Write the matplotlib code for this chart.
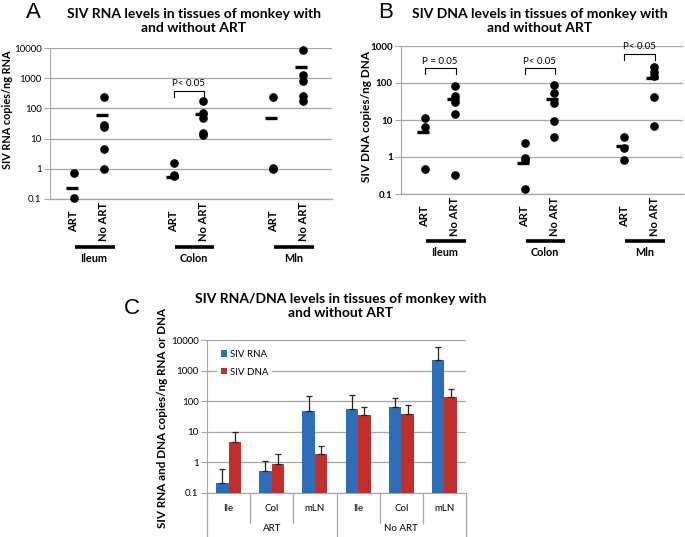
import matplotlib
matplotlib.use("Agg")
import matplotlib.pyplot as plt
import numpy as np

plt.rcParams["font.family"] = ["Lato", "DejaVu Sans"]

# ---- data: panels A and B (individual animals + means) ----
tissues = ["Ileum", "Colon", "Mln"]
groups = ["ART", "No ART"]

rna_art = [[0.72, 0.107], [1.55, 0.6, 0.56], [230, 1.05, 0.95]]
rna_noart = [[230, 28, 24, 4.5, 0.97], [170, 70, 48, 15, 13], [8500, 1250, 800, 250, 170]]
rna_art_mean = [0.23, 0.54, 48]
rna_noart_mean = [60, 65, 2350]

dna_art = [[11, 6.6, 0.47], [2.35, 0.95, 0.85, 0.14], [3.4, 1.7, 0.83]]
dna_noart = [[83, 45, 30, 14.5, 0.32], [89, 55, 28, 9.3, 3.4], [276, 204, 155, 43, 6.9]]
dna_art_mean = [4.8, 0.71, 2.0]
dna_noart_mean = [36, 38, 140]

# ---- data: panel C (means + upper error) ----
c_tissues = ["Ile", "Col", "mLN", "Ile", "Col", "mLN"]
c_groups = ["ART", "No ART"]
c_rna = [0.22, 0.53, 48, 56, 63, 2300]
c_rna_top = [0.6, 1.15, 149, 158, 123, 6000]
c_dna = [4.6, 0.87, 1.9, 35, 37, 135]
c_dna_top = [10, 1.9, 3.4, 66, 74, 245]

BLUE = "#2F6DB9"
RED = "#C12F2C"
GRID = "#A6A6A6"

W, H = 685, 537
fig = plt.figure(figsize=(W / 100, H / 100), dpi=100)


def px_axes(x0, y0, x1, y1):
    return fig.add_axes([x0 / W, 1 - y1 / H, (x1 - x0) / W, (y1 - y0) / H])


def dot_panel(ax, art, noart, art_mean, noart_mean, ylim, tick_bold):
    ax.set_yscale("log")
    ax.set_ylim(*ylim)
    ax.set_xlim(-0.39, 2.44)
    for i in range(len(tissues)):
        for vals, means, off in [(art, art_mean, -0.15), (noart, noart_mean, 0.15)]:
            ax.plot([i + off] * len(vals[i]), vals[i], "o", color="black",
                    markersize=5.2, clip_on=False, zorder=5)
            ax.plot([i + off - 0.02], [means[i]], "_", color="black",
                    markersize=8, mew=2.4, zorder=5)
    ax.grid(True, axis="y", which="major", color=GRID, lw=0.9)
    ax.minorticks_off()
    for s in ["top", "right", "bottom"]:
        ax.spines[s].set_visible(False)
    ax.spines["left"].set_color(GRID)
    ax.tick_params(axis="y", length=4, color=GRID, labelsize=7, pad=2)
    ax.set_xticks([])
    ticks = [10 ** k for k in range(int(np.log10(ylim[0])), int(np.log10(ylim[1])) + 1)]
    ax.set_yticks(ticks)
    ax.set_yticklabels([("%g" % t) for t in ticks],
                       fontweight="bold" if tick_bold else "normal")
    ax.axhline(ylim[0], color=GRID, lw=0.9, clip_on=False)
    tr = ax.get_xaxis_transform()
    for i, name in enumerate(tissues):
        ax.text(i - 0.15, -0.15, groups[0], rotation=90, ha="center", va="center",
                fontsize=8, fontweight="bold", transform=tr)
        ax.text(i + 0.15, -0.15, groups[1], rotation=90, ha="center", va="center",
                fontsize=8, fontweight="bold", transform=tr)
        ax.plot([i - 0.14, i + 0.26], [-0.315, -0.315], color="black", lw=2.6,
                transform=tr, clip_on=False, solid_capstyle="butt")
        ax.text(i + 0.05, -0.395, name, ha="center", va="center", fontsize=7.8,
                fontweight="bold", transform=tr)


def bracket(ax, i, top, leg, text_y, label):
    ax.plot([i - 0.15, i - 0.15, i + 0.16, i + 0.16], [leg, top, top, leg],
            color="black", lw=0.8, clip_on=False)
    ax.text(i, text_y, label, ha="center", va="center", fontsize=7)


# ---- Panel A ----
axA = px_axes(50, 48, 332, 199)
dot_panel(axA, rna_art, rna_noart, rna_art_mean, rna_noart_mean, (0.1, 10000), False)
bracket(axA, 1, 377, 240, 690, "P< 0.05")
fig.text(33 / W, 1 - 13 / H, "A", fontsize=16, family="Liberation Sans", ha="center", va="center")
fig.text(194 / W, 1 - 21 / H, "SIV RNA levels in tissues of monkey with\nand without ART",
         ha="center", va="center", fontsize=10, fontweight="bold", linespacing=1.15)
fig.text(8 / W, 1 - 110 / H, "SIV RNA copies/ng RNA", rotation=90, ha="center", va="center",
         fontsize=7.8, fontweight="bold")

# ---- Panel B ----
axB = px_axes(401, 46, 683, 194)
dot_panel(axB, dna_art, dna_noart, dna_art_mean, dna_noart_mean, (0.1, 1000), True)
bracket(axB, 0, 254, 174, 390, "P = 0.05")
bracket(axB, 1, 254, 174, 390, "P< 0.05")
bracket(axB, 2, 608, 418, 940, "P< 0.05")
fig.text(386 / W, 1 - 13 / H, "B", fontsize=16, family="Liberation Sans", ha="center", va="center")
fig.text(540 / W, 1 - 21 / H, "SIV DNA levels in tissues of monkey with\nand without ART",
         ha="center", va="center", fontsize=10, fontweight="bold", linespacing=1.15)
fig.text(367 / W, 1 - 117 / H, "SIV DNA copies/ng DNA", rotation=90, ha="center", va="center",
         fontsize=8.5, fontweight="bold")

# ---- Panel C ----
axC = px_axes(207, 340, 466, 493)
axC.set_yscale("log")
x = np.arange(len(c_tissues))
bw = 0.29
rna = np.array(c_rna)
dna = np.array(c_dna)
axC.bar(x - bw / 2, rna, bw, color=BLUE, label="SIV RNA", zorder=3,
        yerr=[np.zeros(len(rna)), np.array(c_rna_top) - rna],
        error_kw=dict(ecolor="#222222", elinewidth=0.9, capsize=2.5, capthick=0.9))
axC.bar(x + bw / 2, dna, bw, color=RED, label="SIV DNA", zorder=3,
        yerr=[np.zeros(len(dna)), np.array(c_dna_top) - dna],
        error_kw=dict(ecolor="#222222", elinewidth=0.9, capsize=2.5, capthick=0.9))
axC.set_ylim(0.1, 10000)
axC.set_xlim(-0.5, 5.5)
axC.minorticks_off()
axC.set_yticks([0.1, 1, 10, 100, 1000, 10000])
axC.set_yticklabels(["0.1", "1", "10", "100", "1000", "10000"])
axC.tick_params(axis="y", length=4, color=GRID, labelsize=7, pad=2)
axC.set_xticks([])
axC.grid(True, axis="y", color=GRID, lw=0.9, zorder=0)
axC.set_axisbelow(True)
for s in ["top", "right"]:
    axC.spines[s].set_visible(False)
for s in ["left", "bottom"]:
    axC.spines[s].set_color(GRID)
trC = axC.get_xaxis_transform()
for i, t in enumerate(c_tissues):
    axC.text(i, -0.1, t, ha="center", va="center", fontsize=7, transform=trC)
for b in [0.5, 1.5, 3.5, 4.5]:
    axC.plot([b, b], [0, -0.196], color=GRID, lw=0.9, transform=trC, clip_on=False)
for b in [-0.5, 2.5, 5.5]:
    axC.plot([b, b], [0, -0.3], color=GRID, lw=0.9, transform=trC, clip_on=False)
for g, name in enumerate(c_groups):
    axC.text(1 + 3 * g, -0.23, name, ha="center", va="center", fontsize=7, transform=trC)
leg = axC.legend(loc="upper left", bbox_to_anchor=(0.04, 0.96), frameon=True,
                 fontsize=7, handlelength=0.6, handleheight=0.6, handletextpad=0.3,
                 labelspacing=0.9, borderpad=0.4, borderaxespad=0)
leg.get_frame().set_facecolor("white")
leg.get_frame().set_edgecolor("none")
leg.get_frame().set_alpha(1)
fig.text(132 / W, 1 - 308 / H, "C", fontsize=16, family="Liberation Sans", ha="center", va="center")
fig.text(341 / W, 1 - 306 / H, "SIV RNA/DNA levels in tissues of monkey with\nand without ART",
         ha="center", va="center", fontsize=10, fontweight="bold", linespacing=1.15)
fig.text(162 / W, 1 - 418 / H, "SIV RNA and DNA copies/ng RNA or DNA", rotation=90,
         ha="center", va="center", fontsize=8.4, fontweight="bold")

fig.savefig("out.png", dpi=100)
